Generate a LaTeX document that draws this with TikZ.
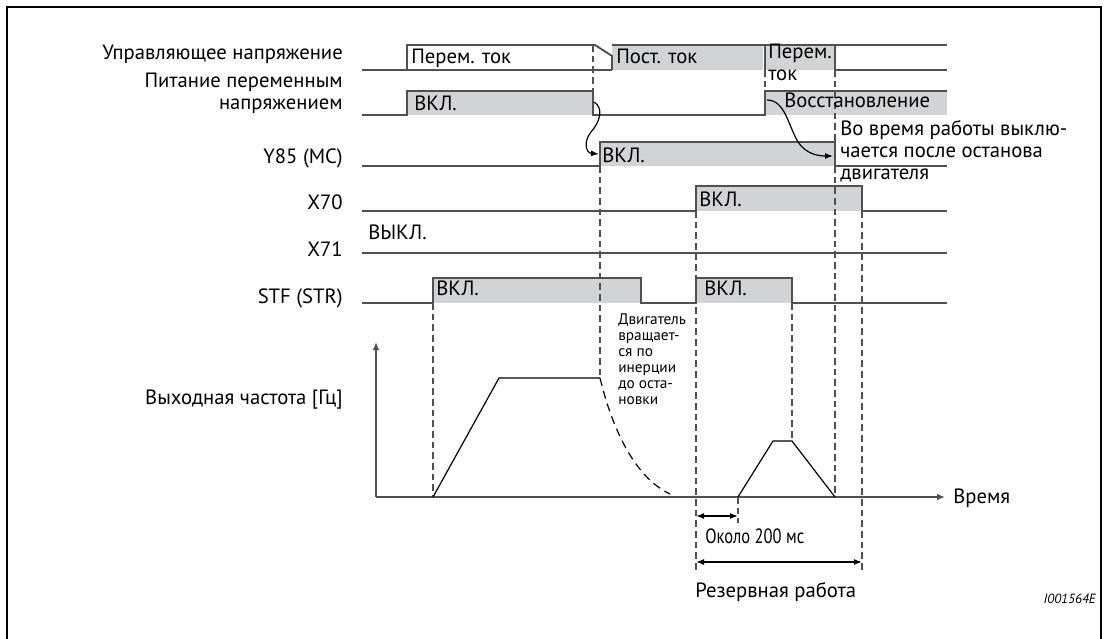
\documentclass[tikz,border=0pt]{standalone}
\usepackage{fontspec}
\setmainfont{PT Sans}
\newfontfamily\condfont[FakeStretch=0.8]{PT Sans}
\usetikzlibrary{arrows.meta,positioning}
\definecolor{sigline}{RGB}{80,80,80}
\definecolor{ongray}{RGB}{209,211,212}

\begin{document}
\begin{tikzpicture}[
    x=0.75pt, y=-0.75pt,
    level/.style={draw=sigline, line width=1.4pt},
    onfill/.style={fill=ongray, draw=none},
    guide/.style={draw=sigline, line width=0.9pt, dash pattern=on 5pt off 3pt},
    axis/.style={draw=sigline, line width=1.3pt, -{Latex[length=6pt,width=5pt]}},
    dim/.style={draw=black, line width=1.1pt, {Latex[length=6pt,width=4.5pt]}-{Latex[length=6pt,width=4.5pt]}},
    hint/.style={draw=black, line width=0.9pt, -{Latex[length=6pt,width=4.5pt]}},
    rowlabel/.style={anchor=base east, inner sep=0pt, align=right, font=\fontsize{15.5}{16}\selectfont},
    boxtext/.style={anchor=base west, inner sep=0pt, align=left, font=\fontsize{15.5}{16.5}\selectfont},
    note/.style={anchor=base west, inner sep=0pt, align=left, font=\fontsize{11.5}{12}\selectfont}
]
\useasboundingbox (0,0) rectangle (1104,639);
\draw[line width=1.5pt] (7,639) -- (7,7) -- (1101,7) -- (1101,639);

% row labels
\node[rowlabel] (lblctrl) at (343,60) {Управляющее напряжение};
\node[rowlabel] (lblac) at (343,109) {Питание переменным\\напряжением};
\node[rowlabel] (lbly85) at (343,163) {Y85 (MC)};
\node[rowlabel] (lblx70) at (343,209) {X70};
\node[rowlabel] (lblx71) at (343,256) {X71};
\node[rowlabel] (lblstf) at (343,303) {STF (STR)};
\node[rowlabel] (lblfreq) at (343,404) {Выходная частота [Гц]};

% grey "on" areas
\path[onfill] (612,45) rectangle (763,70);
\path[onfill] (765,45) rectangle (835,70);
\path[onfill] (407,91) rectangle (593,115);
\path[onfill] (765,91) rectangle (947,115);
\path[onfill] (600,142) rectangle (835,166);
\path[onfill] (696,186) rectangle (862,211);
\path[onfill] (433,278) rectangle (641,303);
\path[onfill] (696,278) rectangle (792,303);

% guide lines
\draw[guide] (593,45) -- (593,91);
\draw[guide] (765,70) -- (765,91);
\draw[guide] (835,70) -- (835,497);
\draw[guide] (600,166) -- (600,378);
\draw[guide] (696,211) -- (696,572);
\draw[guide] (862,211) -- (862,572);
\draw[guide] (433,303) -- (433,497);
\draw[guide] (792,303) -- (792,441);
\draw[guide] (738,497) -- (738,523);

% signal levels
\draw[level] (362,70) -- (612,70);
\draw[level] (407,70) -- (407,45) -- (595,45) -- (612,56) -- (612,70);
\draw[level] (612,45) -- (947,45);
\draw[level] (765,45) -- (765,70);
\draw[level] (835,45) -- (835,70) -- (947,70);
\draw[level] (362,115) -- (407,115) -- (407,91) -- (593,91) -- (593,115) -- (765,115) -- (765,91) -- (947,91);
\draw[level] (362,166) -- (600,166) -- (600,142) -- (835,142) -- (835,166) -- (947,166);
\draw[level] (362,211) -- (696,211) -- (696,186) -- (862,186) -- (862,211) -- (947,211);
\draw[level] (362,253) -- (947,253);
\draw[level] (362,303) -- (433,303) -- (433,278) -- (641,278) -- (641,303) -- (696,303) -- (696,278) -- (792,278) -- (792,303) -- (947,303);

% texts in the levels
\node[boxtext] (acone) at (411,63) {Перем. ток};
\node[boxtext] (dcone) at (616,63) {Пост. ток};
\node[boxtext] (actwo) at (768,80) {Перем.\\ток};
\node[boxtext] (acon) at (414,110) {ВКЛ.};
\node[boxtext] (acback) at (784,107) {Восстановление};
\node[boxtext] (y85on) at (602,162) {ВКЛ.};
\node[boxtext] (x70on) at (699,206) {ВКЛ.};
\node[boxtext] (x71off) at (368,239) {ВЫКЛ.};
\node[boxtext] (stfon) at (436,295) {ВКЛ.};
\node[boxtext] (stfontwo) at (704,295) {ВКЛ.};
\node[boxtext] (y85note) at (840,179) {Во время работы выклю-\\чается после останова\\двигателя};

% handover arrows
\coordinate (acdrop) at (594,102);
\coordinate (y85rise) at (599,154);
\coordinate (acrise) at (767,100);
\coordinate (y85fall) at (833,156);
\draw[hint] (acdrop) .. controls (604,108) and (600,122) .. (591,132) .. controls (583,142) and (586,153) .. (y85rise);
\draw[hint] (acrise) .. controls (785,100) and (788,125) .. (798,142) .. controls (806,154) and (818,156) .. (y85fall);

% output frequency
\coordinate (origin) at (376,497);
\coordinate (ftop) at (376,342);
\coordinate (tend) at (945,497);
\draw[axis] (origin) -- (ftop);
\draw[axis] (origin) -- (tend);
\node[boxtext] (timelbl) at (953,503) {Время};
\draw[line width=0.9pt] (433,497) -- (499,378) -- (600,378);
\draw[line width=0.9pt, dash pattern=on 6pt off 4pt] (600,378) .. controls (615,440) and (640,480) .. (670,494);
\draw[line width=0.9pt] (738,497) -- (773,441) -- (792,441) -- (835,497);
\node[note] (coast) at (618,404) {Двигатель\\вращает-\\ся по\\инерции\\до оста-\\новки};

% time spans
\coordinate (spanl) at (696,516);
\coordinate (spanr) at (738,516);
\coordinate (backl) at (696,562);
\coordinate (backr) at (862,562);
\draw[dim] (spanl) -- (spanr);
\draw[dim] (backl) -- (backr);
\node[boxtext, font=\condfont\fontsize{15.5}{16}\selectfont] (delay) at (705,543) {Около 200 мс};
\node[boxtext] (backup) at (695,597) {Резервная работа};

\node[anchor=base east, inner sep=0pt, font=\itshape\fontsize{10}{12}\selectfont] (figid) at (1096,603) {I001564E};
\end{tikzpicture}
\end{document}
